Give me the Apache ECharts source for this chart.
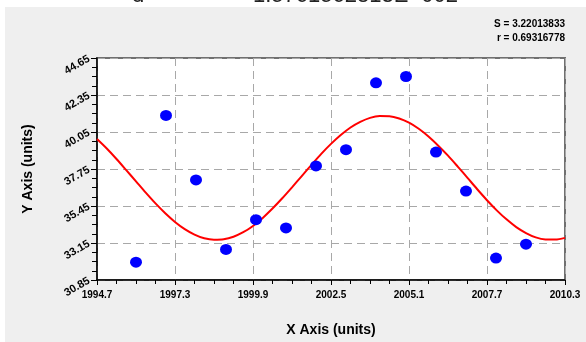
<!DOCTYPE html>
<html>
<head>
<meta charset="utf-8">
<script src="https://cdn.jsdelivr.net/npm/echarts@6/dist/echarts.min.js"></script>
<style>
  html, body { margin: 0; padding: 0; background: #ffffff; }
  #chart { width: 586px; height: 342px; }
</style>
</head>
<body>
<div id="chart"></div>
<script>
// Observed values
const YEARS  = [1996, 1997, 1998, 1999, 2000, 2001, 2002, 2003, 2004, 2005, 2006, 2007, 2008, 2009];
const VALUES = [31.96, 41.08, 37.07, 32.75, 34.60, 34.09, 37.94, 38.95, 43.11, 43.50, 38.80, 36.38, 32.21, 33.08];

// Fitted sine curve, sampled along the x range
const FIT_X = [1994.7, 1995.025, 1995.35, 1995.675, 1996.0, 1996.325, 1996.65, 1996.975,
               1997.3, 1997.625, 1997.95, 1998.275, 1998.6, 1998.925, 1999.25, 1999.575,
               1999.9, 2000.225, 2000.55, 2000.875, 2001.2, 2001.525, 2001.85, 2002.175,
               2002.5, 2002.825, 2003.15, 2003.475, 2003.8, 2004.125, 2004.45, 2004.775,
               2005.1, 2005.425, 2005.75, 2006.075, 2006.4, 2006.725, 2007.05, 2007.375,
               2007.7, 2008.025, 2008.35, 2008.675, 2009.0, 2009.325, 2009.65, 2009.975, 2010.3];
const FIT_Y = [39.61, 39.02, 38.37, 37.68, 36.98, 36.28, 35.61, 35.00,
               34.46, 34.01, 33.67, 33.44, 33.35, 33.38, 33.54, 33.82,
               34.21, 34.71, 35.29, 35.93, 36.61, 37.31, 38.01, 38.69,
               39.31, 39.86, 40.33, 40.68, 40.93, 41.04, 41.03, 40.89,
               40.63, 40.25, 39.77, 39.20, 38.58, 37.90, 37.20, 36.49,
               35.81, 35.18, 34.62, 34.14, 33.77, 33.50, 33.37, 33.36, 33.47];

// Axis tick labels
const X_TICKS = ['1994.7', '1997.3', '1999.9', '2002.5', '2005.1', '2007.7', '2010.3'];
const Y_TICKS = ['30.85', '33.15', '35.45', '37.75', '40.05', '42.35', '44.65'];
const X_MIN = 1994.7, X_STEP = 2.6;
const Y_MIN = 30.85, Y_STEP = 2.3;

const FONT = '"Liberation Sans", Arial, Helvetica, sans-serif';

// Axes are offset so that ticks start at zero
const scatterData = YEARS.map((x, i) => [x - X_MIN, VALUES[i] - Y_MIN]);
const fitData = FIT_X.map((x, i) => [x - X_MIN, FIT_Y[i] - Y_MIN]);

const chart = echarts.init(document.getElementById('chart'), null, { renderer: 'canvas' });

chart.setOption({
  animation: false,
  backgroundColor: '#ffffff',
  graphic: [
    {
      type: 'text', z: -3, left: 132, top: -15,
      style: { text: 'd =', font: '22px ' + FONT, fill: '#222' }
    },
    {
      type: 'text', z: -3, left: 253, top: -15,
      style: { text: '1.5761562813E+002', font: '22px ' + FONT, fill: '#222' }
    },
    {
      type: 'rect', z: -2, shape: { x: 5, y: 7, width: 581, height: 335 },
      style: { fill: '#efefef' }, silent: true
    },
    {
      type: 'text', z: 5, right: 21, top: 19,
      style: { text: 'S = 3.22013833', font: 'bold 10px ' + FONT, fill: '#000', align: 'right' }
    },
    {
      type: 'text', z: 5, right: 21, top: 33,
      style: { text: 'r = 0.69316778', font: 'bold 10px ' + FONT, fill: '#000', align: 'right' }
    }
  ],
  grid: {
    left: 97, top: 58, right: 21, bottom: 57,
    show: true, backgroundColor: '#ffffff',
    borderColor: '#707070', borderWidth: 2
  },
  xAxis: {
    type: 'value',
    min: 0, max: X_STEP * 6, interval: X_STEP,
    name: 'X Axis (units)', nameLocation: 'middle', nameGap: 43,
    nameTextStyle: { fontFamily: FONT, fontWeight: 'bold', fontSize: 14, color: '#000' },
    axisLine: { show: true, onZero: false, lineStyle: { color: '#000', width: 1.5 } },
    axisTick: { show: true, inside: false, length: 5, lineStyle: { color: '#000', width: 1 } },
    minorTick: { show: true, splitNumber: 4, length: 4, lineStyle: { color: '#000', width: 1 } },
    axisLabel: {
      margin: 10, fontFamily: FONT, fontWeight: 'bold', fontSize: 10, color: '#000',
      formatter: v => X_TICKS[Math.round(v / X_STEP)] || ''
    },
    splitLine: { show: true, lineStyle: { color: '#a8a8a8', type: [8, 5], width: 1 } }
  },
  yAxis: {
    type: 'value',
    min: 0, max: Y_STEP * 6, interval: Y_STEP,
    name: 'Y Axis (units)', nameLocation: 'middle', nameGap: 62,
    nameTextStyle: { fontFamily: FONT, fontWeight: 'bold', fontSize: 14, color: '#000' },
    axisLine: { show: true, onZero: false, lineStyle: { color: '#000', width: 1.5 } },
    axisTick: { show: true, inside: false, length: 6, lineStyle: { color: '#000', width: 1 } },
    minorTick: { show: true, splitNumber: 4, length: 5, lineStyle: { color: '#000', width: 1 } },
    axisLabel: {
      margin: 8, rotate: 30, fontFamily: FONT, fontWeight: 'bold', fontSize: 11, color: '#000',
      formatter: v => Y_TICKS[Math.round(v / Y_STEP)] || ''
    },
    splitLine: { show: true, lineStyle: { color: '#a8a8a8', type: [8, 5], width: 1 } }
  },
  series: [
    {
      type: 'line',
      data: fitData,
      smooth: 0.3,
      showSymbol: false,
      lineStyle: { color: '#ff0000', width: 2 },
      z: 3
    },
    {
      type: 'scatter',
      data: scatterData,
      symbol: 'circle',
      symbolSize: [12, 11],
      itemStyle: { color: '#0000ff', opacity: 1 },
      z: 4
    }
  ]
});
</script>
</body>
</html>
